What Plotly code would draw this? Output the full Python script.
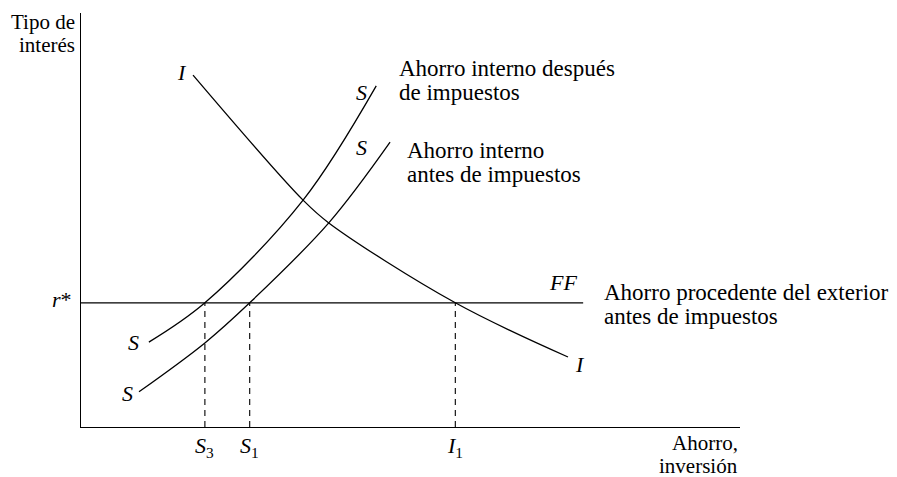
import plotly.graph_objects as go

# curve points (x: ahorro/inversión, y: tipo de interés)
inv_x = [17.0, 33.7, 37.6, 56.8, 73.9]
inv_y = [85.0, 54.8, 49.3, 30.0, 16.9]

s_post_x = [10.3, 18.8, 33.7, 44.8]
s_post_y = [20.5, 30.0, 54.8, 82.4]

s_pre_x = [8.8, 18.8, 25.6, 37.6, 46.9]
s_pre_y = [8.5, 20.3, 30.0, 49.3, 68.8]

r_star = 30.0
ff_end = 76.2
drop_x = [18.8, 25.6, 56.8]
drop_labels = ["<i>S</i><sub>3</sub>", "<i>S</i><sub>1</sub>", "<i>I</i><sub>1</sub>"]

FONT = "Liberation Serif"
line = dict(color="black", width=1.3)

fig = go.Figure()
for xs, ys in [(inv_x, inv_y), (s_post_x, s_post_y), (s_pre_x, s_pre_y)]:
    fig.add_trace(go.Scatter(x=xs, y=ys, mode="lines", line=dict(color="black", width=1.3, shape="spline"),
                             hoverinfo="skip", showlegend=False))

fig.add_trace(go.Scatter(x=[0, ff_end], y=[r_star, r_star], mode="lines", line=line,
                         hoverinfo="skip", showlegend=False))
for dx in drop_x:
    fig.add_trace(go.Scatter(x=[dx, dx], y=[0, r_star], mode="lines",
                             line=dict(color="black", width=1.1, dash="6px,5px"),
                             hoverinfo="skip", showlegend=False))

# labels placed in paper units (0-100 across the axes box)
def label(x, y, text, xanchor="center", size=23, yanchor="middle"):
    fig.add_annotation(x=x / 100, y=y / 100, xref="paper", yref="paper", text=text, showarrow=False,
                       xanchor=xanchor, yanchor=yanchor,
                       font=dict(family=FONT, size=size, color="black"))

label(-0.6, 101.2, "Tipo de", xanchor="right", size=21, yanchor="top")
label(-0.6, 92.3, "interés", xanchor="right", size=21)
label(15.3, 85.7, "<i>I</i>", size=22)
label(42.6, 80.9, "<i>S</i>", size=22)
label(48.0, 86.5, "Ahorro interno después", xanchor="left")
label(48.0, 80.9, "de impuestos", xanchor="left")
label(42.6, 67.6, "<i>S</i>", size=22)
label(49.1, 66.7, "Ahorro interno", xanchor="left")
label(49.1, 61.1, "antes de impuestos", xanchor="left")
label(73.1, 34.8, "<i>FF</i>", size=22)
label(79.0, 32.6, "Ahorro procedente del exterior", xanchor="left")
label(79.0, 26.8, "antes de impuestos", xanchor="left")
label(75.7, 15.0, "<i>I</i>", size=22)
label(-2.9, 30.7, "<i>r</i>*", size=22)
label(7.9, 20.3, "<i>S</i>", size=22)
label(7.1, 8.2, "<i>S</i>", size=22)
for dx, t in zip(drop_x, drop_labels):
    label(dx, -4.8, t, size=22)
label(100, -3.9, "Ahorro,", xanchor="right", size=21)
label(100, -9.5, "inversión", xanchor="right", size=21)

fig.update_xaxes(range=[0, 100], showline=True, linecolor="black", linewidth=1.3,
                 showgrid=False, zeroline=False, showticklabels=False, ticks="")
fig.update_yaxes(range=[0, 100], showline=True, linecolor="black", linewidth=1.3,
                 showgrid=False, zeroline=False, showticklabels=False, ticks="")
# page body adds 8px, so the margins are trimmed to keep the axes where they sit in the original
fig.update_layout(width=889, height=469, margin=dict(l=73, r=157, t=5, b=50),
                  plot_bgcolor="white", paper_bgcolor="white", hovermode=False)

fig.write_html("out.html")
